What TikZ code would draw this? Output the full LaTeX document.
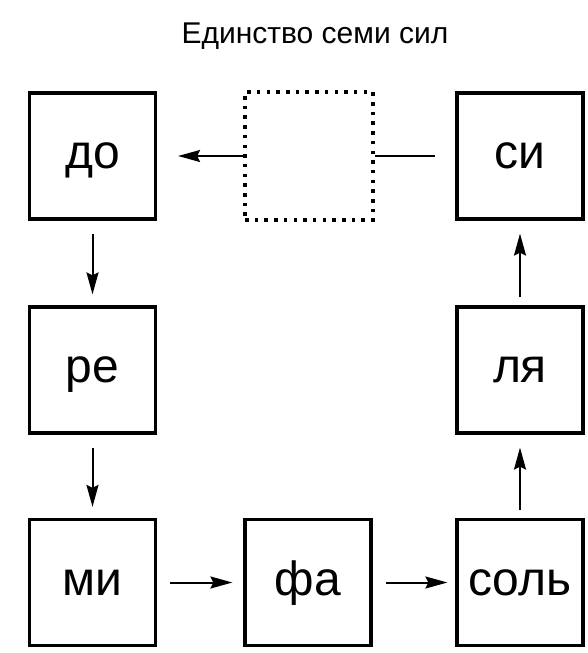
\documentclass[tikz,border=0pt]{standalone}
\usepackage{fontspec}
\setmainfont{Liberation Sans}
\usetikzlibrary{arrows.meta}
\begin{document}
\begin{tikzpicture}[x=1pt,y=-1pt,
  notebox/.style={draw, line width=3.2pt, minimum size=126pt, inner sep=0pt, font=\fontsize{48}{52}\selectfont, text height=25pt, text depth=0pt},
  emptybox/.style={draw, line width=3.5pt, dash pattern=on 3.5pt off 6.2pt, minimum size=128pt, inner sep=0pt},
  flow/.style={line width=2pt, -{Stealth[length=22pt,width=12pt,inset=3pt]}, shorten <=13pt, shorten >=11pt}]
\useasboundingbox (0,0) rectangle (587,653);
\node[font=\fontsize{30}{32}\selectfont] (title) at (315,36) {Единство семи сил};
\node[notebox] (do) at (92.5,156) {до};
\node[emptybox] (gap) at (309,156) {};
\node[notebox] (si) at (520,156) {си};
\node[notebox] (re) at (92.5,370) {ре};
\node[notebox] (la) at (520,370) {ля};
\node[notebox] (mi) at (92.5,582.5) {ми};
\node[notebox] (fa) at (308,582.5) {фа};
\node[notebox] (sol) at (520,582.5) {соль};
\draw[flow, shorten <=0pt, shorten >=21pt] (gap.west) -- (do.east);
\draw[line width=2pt, shorten <=20pt] (si.west) -- (gap.east);
\draw[flow] (do.south) -- (re.north);
\draw[flow] (re.south) -- (mi.north);
\draw[flow] (mi.east) -- (fa.west);
\draw[flow, shorten >=8pt] (fa.east) -- (sol.west);
\draw[flow, shorten <=8pt, shorten >=13pt] (sol.north) -- (la.south);
\draw[flow, shorten <=8pt, shorten >=13pt] (la.north) -- (si.south);
\end{tikzpicture}
\end{document}
